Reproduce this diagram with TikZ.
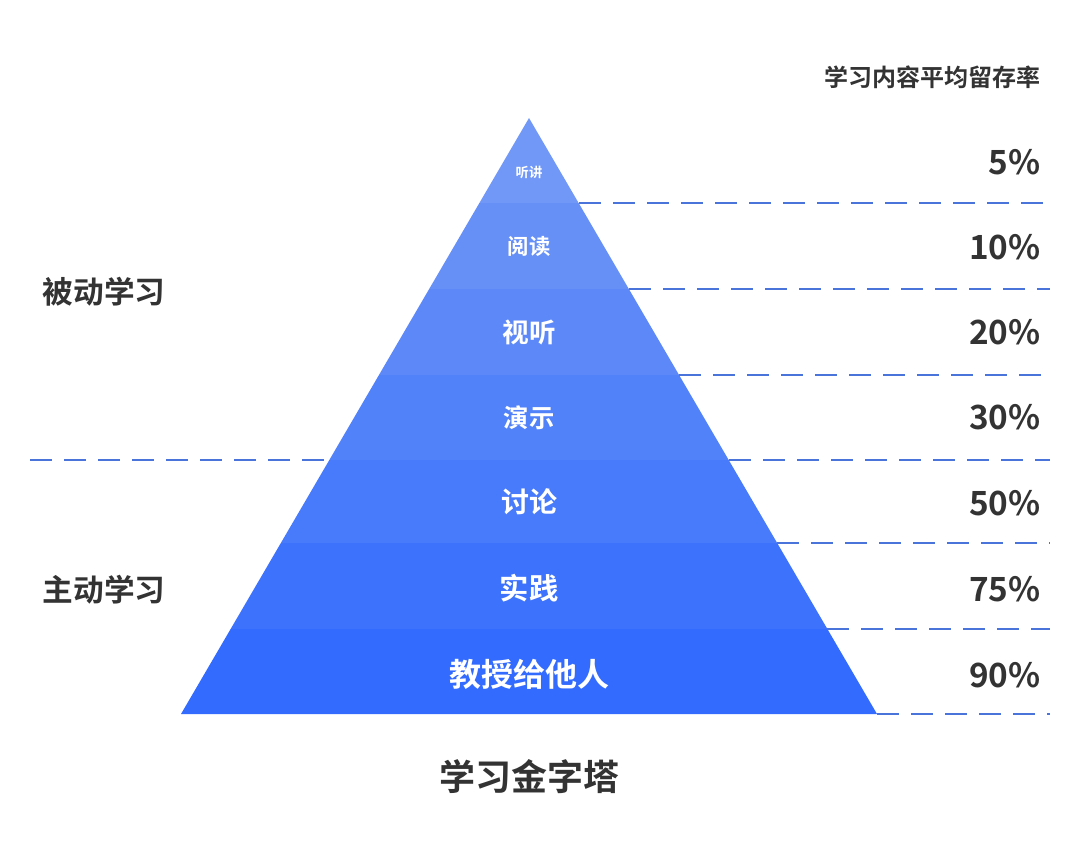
\documentclass[tikz,border=0pt]{standalone}
\usepackage{fontspec}
\setmainfont{Noto Sans CJK SC}[BoldFont={Noto Sans CJK SC Bold}]
\begin{document}
\begin{tikzpicture}[x=0.75pt,y=-0.75pt,
  dashln/.style={draw=dashc,line width=1.6pt,dash pattern=on 16.5pt off 9pt},
  lab/.style={text=white,font=\bfseries,inner sep=0pt},
  pct/.style={text=txt,font=\bfseries\fontsize{25}{25}\selectfont,anchor=east,inner sep=0pt},
  side/.style={text=txt,font=\bfseries\fontsize{23}{23}\selectfont,inner sep=0pt}]
\definecolor{dashc}{HTML}{4A74D9}
\definecolor{txt}{HTML}{333333}
\definecolor{b1}{HTML}{7198F6}
\definecolor{b2}{HTML}{6790F7}
\definecolor{b3}{HTML}{5D89F8}
\definecolor{b4}{HTML}{5282F9}
\definecolor{b5}{HTML}{477BFB}
\definecolor{b6}{HTML}{3D73FC}
\definecolor{b7}{HTML}{336BFE}
\useasboundingbox (0,0) rectangle (1080,845);
\coordinate (apex) at (529,118);
\coordinate (bl) at (181,714);
\coordinate (br) at (877,714);
\begin{scope}
\clip (apex) -- (bl) -- (br) -- cycle;
\fill[b1] (100,100) rectangle (1000,203);
\fill[b2] (100,203) rectangle (1000,289);
\fill[b3] (100,289) rectangle (1000,375);
\fill[b4] (100,375) rectangle (1000,460);
\fill[b5] (100,460) rectangle (1000,543);
\fill[b6] (100,543) rectangle (1000,629);
\fill[b7] (100,629) rectangle (1000,715);
\end{scope}
\coordinate (d1) at (579,203); \coordinate (e1) at (1050,203);
\coordinate (d2) at (629,289); \coordinate (e2) at (1050,289);
\coordinate (d3) at (679,375); \coordinate (e3) at (1050,375);
\coordinate (d4) at (729,460); \coordinate (e4) at (1050,460);
\coordinate (d5) at (777,543); \coordinate (e5) at (1050,543);
\coordinate (d6) at (827,629); \coordinate (e6) at (1050,629);
\coordinate (d7) at (877,714); \coordinate (e7) at (1050,714);
\coordinate (l1) at (30,460); \coordinate (l2) at (325,460);
\foreach \i in {1,...,7}{\draw[dashln] (d\i) -- (e\i);}
\draw[dashln] (l1) -- (l2);
\node[lab,font=\bfseries\fontsize{10}{10}\selectfont] (t1) at (529,172) {听讲};
\node[lab,font=\bfseries\fontsize{16}{16}\selectfont] (t2) at (529,246) {阅读};
\node[lab,font=\bfseries\fontsize{20}{20}\selectfont] (t3) at (529,332) {视听};
\node[lab,font=\bfseries\fontsize{19}{19}\selectfont] (t4) at (529,418) {演示};
\node[lab,font=\bfseries\fontsize{21}{21}\selectfont] (t5) at (529,502) {讨论};
\node[lab,font=\bfseries\fontsize{22}{22}\selectfont] (t6) at (529,588) {实践};
\node[lab,font=\bfseries\fontsize{24}{24}\selectfont] (t7) at (529,674) {教授给他人};
\node[text=txt,font=\bfseries\fontsize{18}{18}\selectfont,anchor=east,inner sep=0pt] (title) at (1041,77) {学习内容平均留存率};
\node[pct] (p1) at (1041,162) {5\%};
\node[pct] (p2) at (1041,247) {10\%};
\node[pct] (p3) at (1041,332) {20\%};
\node[pct] (p4) at (1041,417) {30\%};
\node[pct] (p5) at (1041,503) {50\%};
\node[pct] (p6) at (1041,589) {75\%};
\node[pct] (p7) at (1041,675) {90\%};
\node[side] (passive) at (104,292) {被动学习};
\node[side] (active) at (104,590) {主动学习};
\node[text=txt,font=\bfseries\fontsize{27}{27}\selectfont,inner sep=0pt] (caption) at (529,777) {学习金字塔};
\end{tikzpicture}
\end{document}
